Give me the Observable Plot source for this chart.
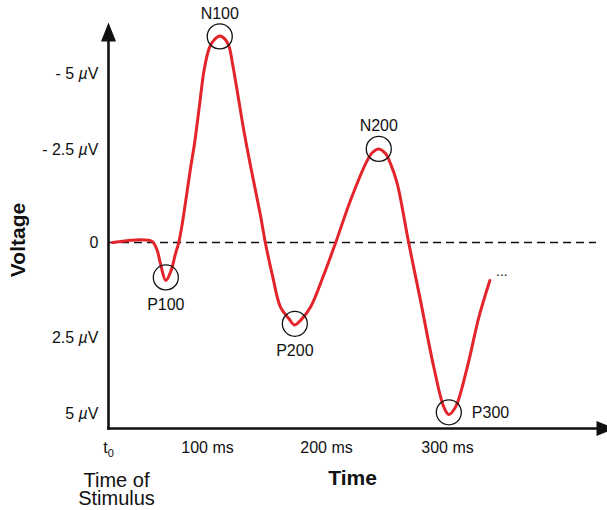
<!DOCTYPE html>
<html>
<head>
<meta charset="utf-8">
<script src="https://cdn.jsdelivr.net/npm/d3@7"></script>
<script src="https://cdn.jsdelivr.net/npm/@observablehq/plot@0.6"></script>
<style>
  html, body { margin: 0; padding: 0; background: #fff; }
  #chart svg { display: block; }
</style>
</head>
<body>
<div id="chart"></div>
<script>
// ERP waveform (time in ms, voltage in µV; negative plotted upward)
const curveTime = [4, 18.9, 35.7, 44.1, 49.2, 52.5, 57.9, 63.2, 67.7, 71.0, 74.7, 78.8, 82.8, 86.9, 91.9, 96.5, 101.7, 105.9, 110.3, 114.7, 118.1, 121.0, 125.6, 130.5, 135.3, 140.3, 144.5, 148.7, 154.6, 161.3, 168.3, 173.1, 178.2, 186.6, 197.5, 207.4, 219.8, 233.6, 238.0, 243.2, 248.8, 252.9, 258.4, 268.0, 277.7, 288.7, 297.0, 301.1, 306.6, 316.3, 325.9, 335.0];
const curveVoltage = [0, -0.05, -0.07, -0.03, 0.21, 0.56, 1.0, 0.74, 0.29, 0, -0.54, -1.26, -1.99, -2.70, -3.95, -5.10, -5.86, -6.12, -6.23, -6.13, -5.89, -5.33, -4.28, -3.13, -2.20, -1.40, -0.73, 0.02, 0.87, 1.70, 2.0, 2.17, 2.05, 1.70, 0.87, 0.02, -1.13, -2.20, -2.42, -2.52, -2.39, -2.12, -1.59, 0.02, 1.53, 3.48, 4.79, 5.03, 4.79, 3.48, 1.97, 1.0];

const peakNames = ["P100", "N100", "P200", "N200", "P300"];
const peakTimes = [57.9, 110.3, 173.4, 243.2, 301.1];
const peakVoltages = [0.92, -6.22, 2.14, -2.52, 4.96];

const yTickValues = [-5, -2.5, 0, 2.5, 5];
const yTickLabels = ["- 5 µV", "- 2.5 µV", "0", "2.5 µV", "5 µV"];
const xTickValues = [0, 100, 200, 300];
const xTickLabels = ["t0", "100 ms", "200 ms", "300 ms"];

const yAxisTitle = "Voltage";
const xAxisTitle = "Time";
const stimulusLabel = "Time of\nStimulus";
const continuationLabel = "...";

// build tables
const curve = curveTime.map((t, i) => ({t, v: curveVoltage[i]}));
const peaks = peakNames.map((name, i) => ({name, t: peakTimes[i], v: peakVoltages[i]}));
const below = peaks.filter(d => d.name === "P100" || d.name === "P200");
const above = peaks.filter(d => d.name[0] === "N");
const right = peaks.filter(d => d.name === "P300");
const last = [curve[curve.length - 1]];

const RED = "#e3242b";
const FONT = "'Liberation Sans', Arial, Helvetica, sans-serif";

// filled arrowhead symbol
const arrowUp = { draw(ctx) { ctx.moveTo(0, -19); ctx.lineTo(7.5, 0); ctx.lineTo(-7.5, 0); ctx.closePath(); } };

const chart = Plot.plot({
  width: 607,
  height: 510,
  marginLeft: 108,
  marginRight: 11,
  marginTop: 41,
  marginBottom: 82,
  style: { fontFamily: FONT, fontSize: "16px", color: "#111", background: "#fff", overflow: "visible" },
  x: { type: "linear", domain: xTickValues, range: [108, 207, 326, 447], label: null },
  y: { type: "linear", domain: yTickValues, range: [73, 149, 242, 337, 413], label: null },
  marks: [
    Plot.ruleY([0], { stroke: "#111", strokeWidth: 1.3, strokeDasharray: "8,5" }),
    Plot.frame({ anchor: "left", stroke: "#111", strokeWidth: 2.6 }),
    Plot.frame({ anchor: "bottom", stroke: "#111", strokeWidth: 2.6 }),
    Plot.dot([0], { frameAnchor: "top-left", symbol: arrowUp, fill: "#111", stroke: "none", r: 5 }),
    Plot.dot([0], { frameAnchor: "bottom-right", symbol: arrowUp, fill: "#111", stroke: "none", r: 5, rotate: 90 }),
    Plot.axisY({ ticks: yTickValues, tickFormat: (d) => yTickLabels[yTickValues.indexOf(d)], tickSize: 0, tickPadding: 10, fontSize: 16, label: null }),
    Plot.axisX({ ticks: xTickValues, tickFormat: (d) => xTickLabels[xTickValues.indexOf(d)], tickSize: 0, tickPadding: 13, fontSize: 16, label: null }),
    Plot.line(curve, { x: "t", y: "v", stroke: RED, strokeWidth: 3, curve: "catmull-rom" }),
    Plot.dot(peaks, { x: "t", y: "v", r: 12.5, stroke: "#111", strokeWidth: 1.3, fill: "none" }),
    Plot.text(below, { x: "t", y: "v", text: "name", dy: 27, fontSize: 16 }),
    Plot.text(above, { x: "t", y: "v", text: "name", dy: -23, fontSize: 16 }),
    Plot.text(right, { x: "t", y: "v", text: "name", dx: 23, dy: 1, textAnchor: "start", fontSize: 16 }),
    Plot.text(last, { x: "t", y: "v", text: () => continuationLabel, dx: 12, dy: -9, fontSize: 14 }),
    Plot.text([yAxisTitle], { frameAnchor: "left", text: d => d, rotate: -90, textAnchor: "middle", lineAnchor: "middle", dx: -90, dy: 5, fontSize: 21, fontWeight: "bold" }),
    Plot.text([xAxisTitle], { frameAnchor: "bottom", text: d => d, textAnchor: "middle", lineAnchor: "middle", dy: 50, fontSize: 21, fontWeight: "bold" }),
    Plot.text([stimulusLabel], { frameAnchor: "bottom-left", text: d => d, textAnchor: "middle", lineAnchor: "middle", dx: 8, dy: 62, fontSize: 20, lineHeight: 0.9 })
  ]
});

// italic µ and subscript 0 in tick labels
d3.select(chart).selectAll("text").each(function () {
  const el = d3.select(this);
  const s = this.textContent;
  if (s.includes("µ") && this.children.length === 0) {
    const [a, b] = s.split("µ");
    el.text(null);
    el.append("tspan").text(a);
    el.append("tspan").attr("font-style", "italic").text("µ");
    el.append("tspan").text(b);
  } else if (s === "t0" && this.children.length === 0) {
    el.text(null);
    el.append("tspan").text("t");
    el.append("tspan").attr("font-size", "11px").attr("dy", "0.35em").text("0");
  }
});

document.getElementById("chart").appendChild(chart);
</script>
</body>
</html>
